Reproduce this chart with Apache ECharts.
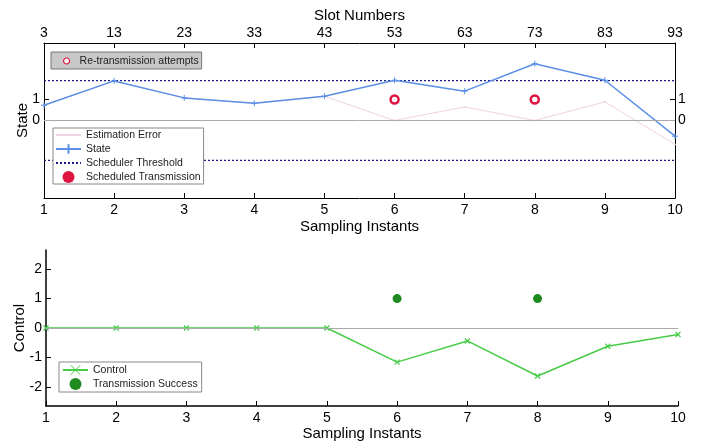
<!DOCTYPE html>
<html>
<head>
<meta charset="utf-8">
<script src="https://cdn.jsdelivr.net/npm/echarts@6/dist/echarts.min.js"></script>
<style>
  html, body { margin: 0; padding: 0; background: #fff; }
  #chart { width: 703px; height: 442px; }
</style>
</head>
<body>
<div id="chart"></div>
<script>
  // sampling instants and the matching slot numbers on the top axis
  const instants = [1, 2, 3, 4, 5, 6, 7, 8, 9, 10];
  const slotNumbers = [3, 13, 23, 33, 43, 53, 63, 73, 83, 93];

  // top panel
  const stateVals = [0.73, 1.89, 1.08, 0.82, 1.16, 1.92, 1.40, 2.71, 1.92, -0.75];
  const estError = [0.73, 1.89, 1.08, 0.82, 1.16, 0.0, 0.65, 0.0, 0.89, -1.14];
  const thresholds = [1.9, -1.9];
  const retxX = [6, 8];
  const retxY = [1, 1];
  const stateTicks = [0, 1];

  // bottom panel
  const controlVals = [0, 0, 0, 0, 0, -1.16, -0.44, -1.63, -0.62, -0.22];
  const successX = [6, 8];
  const successY = [1, 1];
  const controlTicks = [-2, -1, 0, 1, 2];

  const font = 'Liberation Sans, Arial, Helvetica, sans-serif';
  const plusPath = 'path://M0,-1L0,1M-1,0L1,0';
  const crossPath = 'path://M-1,-1L1,1M1,-1L-1,1';
  const pairs = (xs, ys) => xs.map((x, i) => [x, ys[i]]);
  const clear = 'rgba(0,0,0,0)';

  const chart = echarts.init(document.getElementById('chart'));

  const axisLbl = { color: '#000', fontSize: 14, fontFamily: font };
  const axisName = { color: '#000', fontSize: 15, fontFamily: font };
  const legendText = { fontSize: 10.5, fontFamily: font, color: '#222', lineHeight: 12 };
  const blackLine = { show: true, onZero: false, lineStyle: { color: '#000', width: 1 } };
  const zeroLine = {
    silent: true, symbol: 'none', label: { show: false },
    lineStyle: { color: '#aaa', type: 'solid', width: 1 },
    data: [{ yAxis: 0 }]
  };

  let option = {
    animation: false,
    backgroundColor: '#fff',
    grid: [
      { left: 44, right: 28, top: 43, height: 155, outerBoundsMode: 'none' },
      { left: 46, right: 25, top: 250, height: 156, outerBoundsMode: 'none' }
    ],
    xAxis: [
      {
        gridIndex: 0, type: 'value', min: 1, max: 10, interval: 1, position: 'bottom',
        name: 'Sampling Instants', nameLocation: 'middle', nameGap: 21, nameTextStyle: axisName,
        axisLine: blackLine, axisTick: { inside: true, length: 5, lineStyle: { color: '#000' } },
        axisLabel: Object.assign({ margin: 5, hideOverlap: false }, axisLbl),
        splitLine: { show: false }
      },
      {
        gridIndex: 0, type: 'value', min: 1, max: 10, interval: 1, position: 'top',
        name: 'Slot Numbers', nameLocation: 'middle', nameGap: 20, nameTextStyle: axisName,
        axisLine: blackLine, axisTick: { inside: true, length: 5, lineStyle: { color: '#000' } },
        axisLabel: Object.assign({
          margin: 3, hideOverlap: false,
          formatter: v => slotNumbers[instants.indexOf(v)]
        }, axisLbl),
        splitLine: { show: false }
      },
      {
        gridIndex: 1, type: 'value', min: 1, max: 10, interval: 1, position: 'bottom',
        name: 'Sampling Instants', nameLocation: 'middle', nameGap: 19, nameTextStyle: axisName,
        axisLine: { show: true, onZero: false, lineStyle: { color: '#000', width: 1.5 } },
        axisTick: { inside: true, length: 5, lineStyle: { color: '#000' } },
        axisLabel: Object.assign({ margin: 5, hideOverlap: false }, axisLbl),
        splitLine: { show: false }
      }
    ],
    yAxis: [
      {
        gridIndex: 0, type: 'value', min: -3.7, max: 3.7, position: 'left',
        name: 'State', nameLocation: 'middle', nameGap: 14, nameMoveOverlap: false,
        nameTextStyle: axisName,
        axisLine: blackLine,
        axisTick: { inside: true, length: 5, customValues: stateTicks, lineStyle: { color: '#000' } },
        axisLabel: Object.assign({ margin: 4, customValues: stateTicks }, axisLbl),
        splitLine: { show: false }
      },
      {
        gridIndex: 0, type: 'value', min: -3.7, max: 3.7, position: 'right',
        axisLine: blackLine,
        axisTick: { inside: true, length: 5, customValues: stateTicks, lineStyle: { color: '#000' } },
        axisLabel: Object.assign({ margin: 3, customValues: stateTicks }, axisLbl),
        splitLine: { show: false }
      },
      {
        gridIndex: 1, type: 'value', min: -2.65, max: 2.65, position: 'left',
        name: 'Control', nameLocation: 'middle', nameGap: 19, nameMoveOverlap: false,
        nameTextStyle: axisName,
        axisLine: { show: true, onZero: false, lineStyle: { color: '#000', width: 1.5 } },
        axisTick: { inside: true, length: 5, customValues: controlTicks, lineStyle: { color: '#000' } },
        axisLabel: Object.assign({ margin: 4, customValues: controlTicks }, axisLbl),
        splitLine: { show: false }
      }
    ],
    legend: [
      {
        left: 53, top: 128, orient: 'vertical', selectedMode: false,
        backgroundColor: '#fff', borderColor: '#888', borderWidth: 1, borderRadius: 0,
        padding: [1, 3, 1, 2], itemGap: 2, itemWidth: 25, itemHeight: 12,
        textStyle: legendText,
        data: [
          { name: 'Estimation Error', itemStyle: { color: clear, borderColor: clear } },
          'State',
          { name: 'Scheduler Threshold', itemStyle: { color: clear, borderColor: clear } },
          { name: 'Scheduled Transmission', icon: 'circle', itemStyle: { color: '#dd1540', opacity: 1 } }
        ]
      },
      {
        left: 51, top: 52, orient: 'vertical', selectedMode: false,
        backgroundColor: '#c8c8c8', borderColor: '#777', borderWidth: 1, borderRadius: 0,
        padding: [3, 3, 2, 12], itemWidth: 6, itemHeight: 6,
        textStyle: Object.assign({ padding: [0, 0, 0, 5] }, legendText),
        data: [
          { name: 'Re-transmission attempts', icon: 'circle',
            itemStyle: { color: '#fff', borderColor: '#dd1540', borderWidth: 1.2 } }
        ]
      },
      {
        left: 59, top: 362, orient: 'vertical', selectedMode: false,
        backgroundColor: '#fff', borderColor: '#888', borderWidth: 1, borderRadius: 0,
        padding: [2, 4, 2, 3], itemGap: 2, itemWidth: 25, itemHeight: 12,
        textStyle: legendText,
        data: [
          { name: 'Control', itemStyle: { borderWidth: 1 } },
          { name: 'Transmission Success', icon: 'circle', itemStyle: { color: '#1f8a1f', opacity: 1 } }
        ]
      }
    ],
    series: [
      {
        name: 'Estimation Error', type: 'line', xAxisIndex: 0, yAxisIndex: 0,
        data: pairs(instants, estError),
        symbol: 'circle', symbolSize: 2,
        lineStyle: { color: '#f0d2e2', width: 1 },
        itemStyle: { color: '#f0c8dc' },
        markLine: zeroLine, z: 2
      },
      {
        name: 'State', type: 'line', xAxisIndex: 0, yAxisIndex: 0,
        data: pairs(instants, stateVals),
        symbol: plusPath, symbolSize: 6,
        lineStyle: { color: '#5b8fe6', width: 1.5 },
        itemStyle: { color: '#5b8fe6', borderColor: '#5b8fe6', borderWidth: 1 },
        z: 4
      },
      {
        name: 'Scheduler Threshold', type: 'line', xAxisIndex: 0, yAxisIndex: 0,
        data: pairs([instants[0], instants[instants.length - 1]], [thresholds[0], thresholds[0]]),
        symbol: 'none',
        lineStyle: { color: '#1a1a8c', width: 1.2, type: [2, 2] },
        itemStyle: { color: '#1a1a8c' }, z: 3
      },
      {
        name: 'Scheduler Threshold', type: 'line', xAxisIndex: 0, yAxisIndex: 0,
        data: pairs([instants[0], instants[instants.length - 1]], [thresholds[1], thresholds[1]]),
        symbol: 'none',
        lineStyle: { color: '#1a1a8c', width: 1.2, type: [2, 2] },
        itemStyle: { color: '#1a1a8c' }, z: 3
      },
      {
        name: 'Scheduled Transmission', type: 'scatter', xAxisIndex: 0, yAxisIndex: 0,
        data: [], symbol: 'circle', symbolSize: 9, itemStyle: { color: '#dd1540', opacity: 1 }
      },
      {
        name: 'Re-transmission attempts', type: 'scatter', xAxisIndex: 0, yAxisIndex: 0,
        data: pairs(retxX, retxY), symbol: 'circle', symbolSize: 8,
        itemStyle: { color: '#fff', borderColor: '#dd1540', borderWidth: 2.5, opacity: 1 }, z: 5
      },
      {
        name: 'Control', type: 'line', xAxisIndex: 2, yAxisIndex: 2,
        data: pairs(instants, controlVals),
        symbol: crossPath, symbolSize: 5,
        lineStyle: { color: '#48cc48', width: 1.5 },
        itemStyle: { color: '#48cc48', borderColor: '#48cc48', borderWidth: 1.2 },
        markLine: zeroLine, z: 3
      },
      {
        name: 'Transmission Success', type: 'scatter', xAxisIndex: 2, yAxisIndex: 2,
        data: pairs(successX, successY), symbol: 'circle', symbolSize: 9,
        itemStyle: { color: '#1f8a1f', opacity: 1 }, z: 4
      }
    ]
  };

  option && chart.setOption(option);
</script>
</body>
</html>
